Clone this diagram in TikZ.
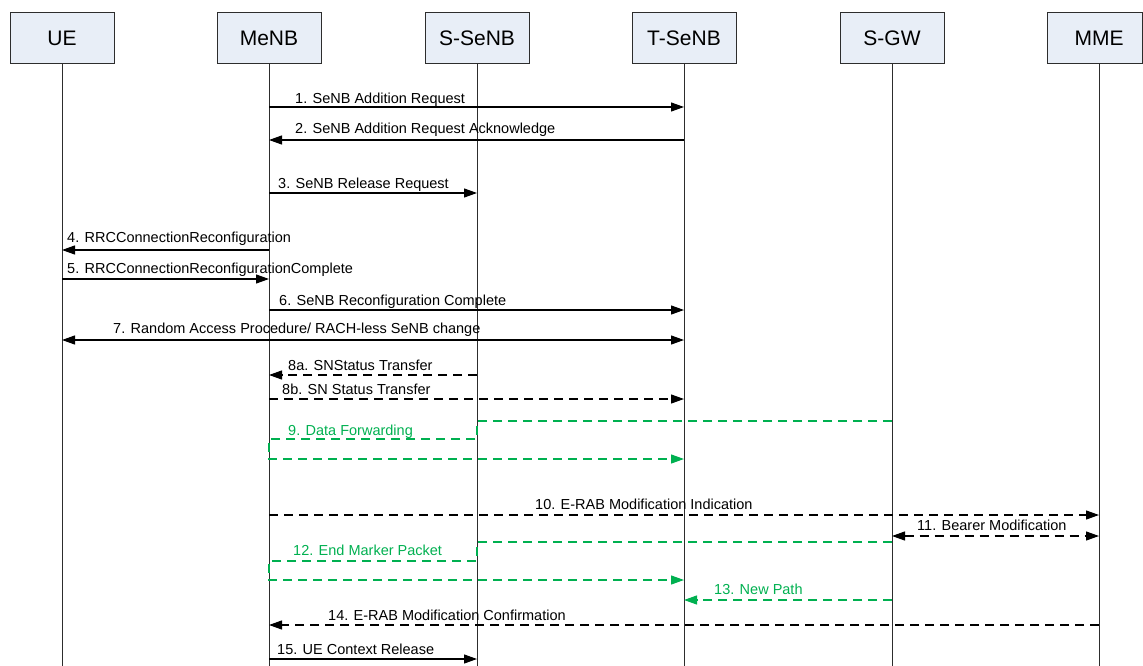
\documentclass[tikz,border=0pt]{standalone}
\usepackage{fontspec}
\setmainfont{Liberation Sans}
\usetikzlibrary{arrows.meta}
\definecolor{boxfill}{RGB}{232,238,247}
\definecolor{linegray}{RGB}{45,45,45}
\definecolor{fwdgreen}{RGB}{0,176,80}
\begin{document}
\begin{tikzpicture}[x=1pt,y=-1pt,
  ent/.style={draw=linegray, fill=boxfill, line width=1pt, minimum width=104pt, minimum height=51pt, inner sep=0pt, font=\fontsize{21}{24}\selectfont},
  life/.style={draw=linegray, line width=1pt},
  tip/.tip={Triangle[length=13pt,width=9pt]},
  msg/.style={draw=black, line width=1.2pt, -tip},
  bimsg/.style={draw=black, line width=1.2pt, tip-tip},
  dsh/.style={dash pattern=on 9pt off 6pt},
  fwd/.style={draw=fwdgreen, line width=1.2pt, dash pattern=on 9pt off 6pt},
  lbl/.style={anchor=base west, inner sep=0pt, font=\fontsize{14.5}{17}\selectfont},
  glbl/.style={lbl, text=fwdgreen}
]
\useasboundingbox (0,0) rectangle (1143,666);
% entities
\node[ent] (ue) at (62,38.5) {UE};
\node[ent] (menb) at (269,38.5) {MeNB};
\node[ent] (ssenb) at (477,38.5) {S-SeNB};
\node[ent] (tsenb) at (684,38.5) {T-SeNB};
\node[ent] (sgw) at (892,38.5) {S-GW};
\node[ent, minimum width=95pt] (mmebox) at (1094.5,38.5) {\hspace*{9pt}MME};
\coordinate (mme) at (1099,38.5);
% lifelines
\draw[life] (ue.south) -- (ue |- 0,666);
\draw[life] (menb.south) -- (menb |- 0,666);
\draw[life] (ssenb.south) -- (ssenb |- 0,666);
\draw[life] (tsenb.south) -- (tsenb |- 0,666);
\draw[life] (sgw.south) -- (sgw |- 0,666);
\draw[life] (mme |- mmebox.south) -- (mme |- 0,666);
% 1
\draw[msg] (menb |- 0,107) -- (tsenb |- 0,107);
\node[lbl] (l1) at (295,104) {1. SeNB Addition Request};
% 2
\draw[msg] (tsenb |- 0,140) -- (menb |- 0,140);
\node[lbl] (l2) at (295,134) {2. SeNB Addition Request Acknowledge};
% 3
\draw[msg] (menb |- 0,193) -- (ssenb |- 0,193);
\node[lbl] (l3) at (278,188) {3. SeNB Release Request};
% 4
\draw[msg] (menb |- 0,250) -- (ue |- 0,250);
\node[lbl] (l4) at (67,242) {4. RRCConnectionReconfiguration};
% 5
\draw[msg] (ue |- 0,279) -- (menb |- 0,279);
\node[lbl] (l5) at (67,273) {5. RRCConnectionReconfigurationComplete};
% 6
\draw[msg] (menb |- 0,310) -- (tsenb |- 0,310);
\node[lbl] (l6) at (279,305) {6. SeNB Reconfiguration Complete};
% 7
\draw[bimsg] (ue |- 0,340) -- (tsenb |- 0,340);
\node[lbl] (l7) at (113,333) {7. Random Access Procedure/ RACH-less SeNB change};
% 8a
\draw[msg, dsh] (ssenb |- 0,375) -- (menb |- 0,375);
\node[lbl] (l8a) at (288,370) {8a. SNStatus Transfer};
% 8b
\draw[msg, dsh] (menb |- 0,399) -- (tsenb |- 0,399);
\node[lbl] (l8b) at (282,394) {8b. SN Status Transfer};
% 9
\draw[fwd, -tip] (sgw |- 0,421) -- (ssenb |- 0,421) -- (ssenb |- 0,439) -- (menb |- 0,439) -- (menb |- 0,459) -- (tsenb |- 0,459);
\node[glbl] (l9) at (288,435) {9. Data Forwarding};
% 10
\draw[msg, dsh] (menb |- 0,515) -- (mme |- 0,515);
\node[lbl] (l10) at (535,509) {10. E-RAB Modification Indication};
% 11
\draw[bimsg, dsh] (sgw |- 0,536) -- (mme |- 0,536);
\node[lbl] (l11) at (917,530) {11. Bearer Modification};
% 12
\draw[fwd, -tip] (sgw |- 0,542) -- (ssenb |- 0,542) -- (ssenb |- 0,561) -- (menb |- 0,561) -- (menb |- 0,580) -- (tsenb |- 0,580);
\node[glbl] (l12) at (293,555) {12. End Marker Packet};
% 13
\draw[fwd, -tip] (sgw |- 0,600) -- (tsenb |- 0,600);
\node[glbl] (l13) at (714,594) {13. New Path};
% 14
\draw[msg, dsh] (mme |- 0,625) -- (menb |- 0,625);
\node[lbl] (l14) at (328,620) {14. E-RAB Modification Confirmation};
% 15
\draw[msg] (menb |- 0,659) -- (ssenb |- 0,659);
\node[lbl] (l15) at (277,654) {15. UE Context Release};
\end{tikzpicture}
\end{document}
